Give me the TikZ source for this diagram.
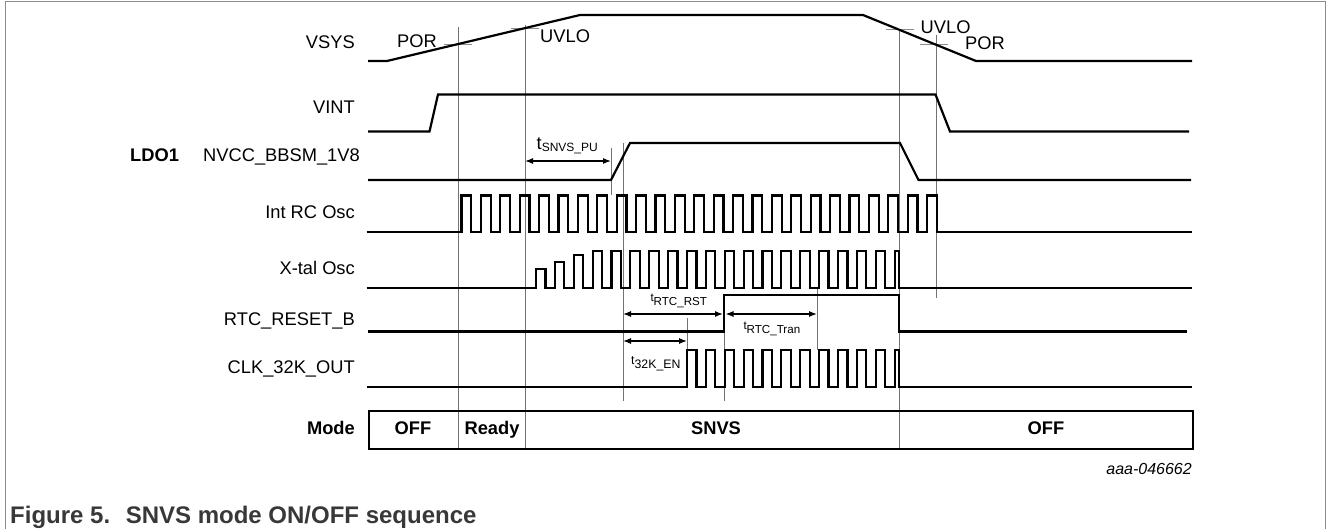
\documentclass[tikz,border=0pt]{standalone}
\usepackage{fontspec}
\setmainfont{Liberation Sans}
\usetikzlibrary{arrows.meta}
\begin{document}
\begin{tikzpicture}[x=1pt,y=-1pt,
  sig/.style={line width=2.2pt, line join=miter, line cap=butt},
  guide/.style={line width=0.9pt, draw=black!55},
  tickmark/.style={line width=0.9pt, draw=black!45},
  dimarrow/.style={line width=1.2pt, {Latex[length=8pt,width=6pt]}-{Latex[length=8pt,width=6pt]}},
  lab/.style={font=\fontsize{18.3}{20}\selectfont, inner sep=0pt},
  blab/.style={font=\fontsize{18.3}{20}\selectfont\bfseries, inner sep=0pt},
  tl/.style={font=\fontsize{11.6}{13}\selectfont, inner sep=0pt},
]
\useasboundingbox (0,0) rectangle (1328,529);
% frame
\coordinate (fbl) at (5,529); \coordinate (ftl) at (5,2);
\coordinate (ftr) at (1325,2); \coordinate (fbr) at (1325,529);
\draw[black!45, line width=1pt] (fbl) -- (ftl) -- (ftr) -- (fbr);

% guide lines
\coordinate (g1t) at (458,27);  \coordinate (g1b) at (458,448);
\coordinate (g2t) at (525,25);  \coordinate (g2b) at (525,448);
\coordinate (g3t) at (899,29);  \coordinate (g3b) at (899,448);
\coordinate (g4t) at (936,35);  \coordinate (g4b) at (936,298);
\coordinate (g5t) at (623,143); \coordinate (g5b) at (623,401);
\coordinate (g6t) at (611,148); \coordinate (g6b) at (611,195);
\coordinate (g7t) at (687,318); \coordinate (g7b) at (687,387);
\coordinate (g8t) at (724,295); \coordinate (g8b) at (724,401);
\coordinate (g9t) at (817,288); \coordinate (g9b) at (817,350);
\foreach \g in {1,...,9}{\draw[guide] (g\g t) -- (g\g b);}

% VSYS threshold ticks
\coordinate (t1a) at (444,44);   \coordinate (t1b) at (472,44);
\coordinate (t2a) at (511,28.3); \coordinate (t2b) at (539,28.3);
\coordinate (t3a) at (886,29.5); \coordinate (t3b) at (914,29.5);
\coordinate (t4a) at (920,44);   \coordinate (t4b) at (948,44);
\foreach \t in {1,...,4}{\draw[tickmark] (t\t a) -- (t\t b);}

% VSYS
\draw[sig] (368,61) -- (387,61) -- (580,15) -- (863,15) -- (976,61) -- (1192,61);
% VINT
\draw[sig] (368,131.5) -- (429.5,131.5) -- (438,94.5) -- (935.5,94.5) -- (950,131.5) -- (1189,131.5);
% NVCC_BBSM_1V8
\draw[sig] (368,180) -- (611,180) -- (630,143) -- (900,143) -- (918.5,180) -- (1191,180);
% Int RC Osc
\draw[sig] (366.7,232) \foreach \k in {0,...,24}{ -- ({461.5+\k*19.4},232) -- ({461.5+\k*19.4},195.5) -- ({471.2+\k*19.4},195.5) -- ({471.2+\k*19.4},232) } -- (1192,232);
% X-tal Osc
\draw[sig] (366.7,288) -- (536,288) -- (536,269) -- (545.4,269) -- (545.4,288)
  -- (554.9,288) -- (554.9,262) -- (564.3,262) -- (564.3,288)
  -- (573.75,288) -- (573.75,255) -- (583.2,255) -- (583.2,288)
  \foreach \k in {3,...,18}{ -- ({536+\k*18.875},288) -- ({536+\k*18.875},251) -- ({545.44+\k*18.875},251) -- ({545.44+\k*18.875},288) }
  -- (894.6,288) -- (894.6,251) -- (899,251) -- (899,288) -- (1192,288);
% RTC_RESET_B
\draw[sig] (368,331.5) -- (724,331.5) -- (724,295) -- (899,295) -- (899,331.5) -- (1187,331.5);
% CLK_32K_OUT
\draw[sig] (366.7,387) \foreach \k in {0,...,10}{ -- ({687+\k*18.875},387) -- ({687+\k*18.875},350) -- ({696.44+\k*18.875},350) -- ({696.44+\k*18.875},387) } -- (894.6,387) -- (894.6,350) -- (899,350) -- (899,387) -- (1192,387);

% dimension arrows
\coordinate (a1l) at (525,161);   \coordinate (a1r) at (611,161);
\coordinate (a2l) at (623,314);   \coordinate (a2r) at (723,314);
\coordinate (a3l) at (725.5,314); \coordinate (a3r) at (817,314);
\coordinate (a4l) at (623,341);   \coordinate (a4r) at (687,341);
\foreach \a in {1,...,4}{\draw[dimarrow] (a\a l) -- (a\a r);}

% Mode box
\node[draw, line width=2.2pt, minimum width=824pt, minimum height=38pt, inner sep=0pt, anchor=north west] (modebox) at (368,410) {};

% signal labels
\node[lab, anchor=base east] (lvsys) at (355,48.3) {VSYS};
\node[lab, anchor=base east] (lvint) at (355,113.3) {VINT};
\node[blab, anchor=base west] (lldo) at (130,161.7) {LDO1};
\node[lab, anchor=base east] (lnvcc) at (360,161.7) {NVCC\_BBSM\_1V8};
\node[lab, anchor=base east] (lrc) at (355,218.3) {Int RC Osc};
\node[lab, anchor=base east] (lxtal) at (355,275) {X-tal Osc};
\node[lab, anchor=base east] (lrtc) at (355,326) {RTC\_RESET\_B};
\node[lab, anchor=base east] (lclk) at (355,373.3) {CLK\_32K\_OUT};
\node[blab, anchor=base east] (lmode) at (355,434.3) {Mode};

% threshold labels
\node[lab, anchor=base west] (por1) at (397,48) {POR};
\node[lab, anchor=base west] (uvlo1) at (540,42.7) {UVLO};
\node[lab, anchor=base west] (uvlo2) at (920.5,33.3) {UVLO};
\node[lab, anchor=base west] (por2) at (965,49.3) {POR};

% timing labels
\node[inner sep=0pt, anchor=base west] (tpu) at (536.5,150) {\fontsize{18.3}{20}\selectfont t\raisebox{-2pt}{\fontsize{12}{14}\selectfont SNVS\_PU}};
\node[tl, anchor=base west] (trst) at (650.3,306) {\raisebox{4pt}{t}RTC\_RST};
\node[tl, anchor=base west] (ttran) at (743.3,334) {\raisebox{4pt}{t}RTC\_Tran};
\node[inner sep=0pt, anchor=base west, font=\fontsize{12.3}{14}\selectfont] (ten) at (631,368.3) {\raisebox{4pt}{t}32K\_EN};

% mode labels
\node[blab, anchor=base] (m1) at (413,434.3) {OFF};
\node[blab, anchor=base] (m2) at (492,434.3) {Ready};
\node[blab, anchor=base] (m3) at (716,434.3) {SNVS};
\node[blab, anchor=base] (m4) at (1046,434.3) {OFF};

% figure id and caption
\node[inner sep=0pt, anchor=base east, font=\fontsize{16}{18}\selectfont\itshape] (fid) at (1192,474.3) {aaa-046662};
\node[inner sep=0pt, anchor=base west, font=\fontsize{24}{28}\selectfont\bfseries, text=black!78] (cap) at (10,523.5) {Figure 5.~ SNVS mode ON/OFF sequence};
\end{tikzpicture}
\end{document}
